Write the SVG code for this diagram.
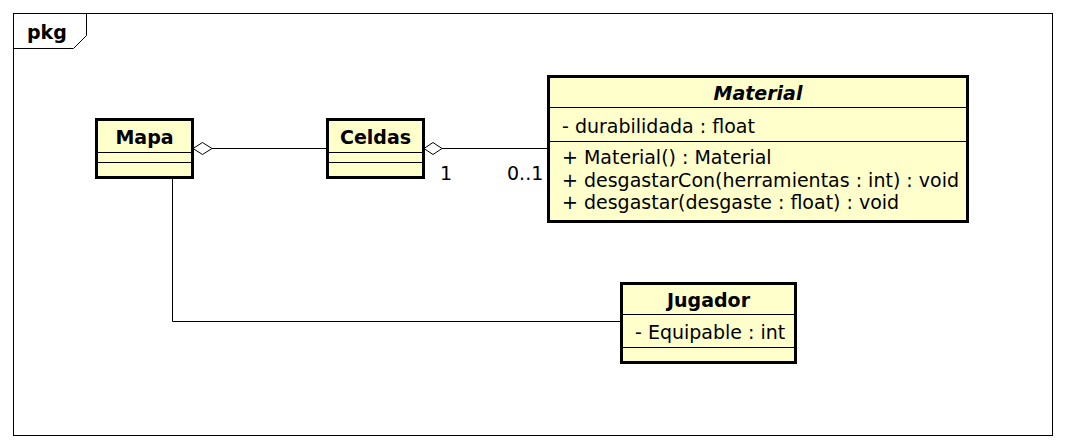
<svg xmlns="http://www.w3.org/2000/svg" width="1065" height="448" viewBox="0 0 1065 448">
<style>
.box{fill:#FFFFCC;stroke:#000;stroke-width:3}
.sep{stroke:#000;stroke-width:1}
.t{font-family:"DejaVu Sans",sans-serif;font-size:19px;fill:#000}
.b{font-weight:bold}
.c{text-anchor:middle}
.ln{fill:none;stroke:#000;stroke-width:1}
.dia{fill:#fff;stroke:#000;stroke-width:1}
</style>
<rect width="1065" height="448" fill="#fff"/>
<g id="frame">
<rect x="13.5" y="13.5" width="1039" height="422" fill="none" stroke="#000" stroke-width="1"/>
<path class="ln" d="M13.5,48.5 H73.5 L86.5,35.5 V13.5"/>
<text class="t b" x="27" y="39">pkg</text>
</g>
<g id="connectors">
<line class="ln" x1="212" y1="148.5" x2="327" y2="148.5"/>
<path class="dia" d="M193,148.5 L202.5,142.5 L212,148.5 L202.5,154.5 Z"/>
<line class="ln" x1="442" y1="148.5" x2="548" y2="148.5"/>
<path class="dia" d="M424,148.5 L433,142.5 L442,148.5 L433,154.5 Z"/>
<text class="t" x="440" y="180">1</text>
<text class="t" x="507" y="180">0..1</text>
<path class="ln" d="M172.5,178 V321.5 H621"/>
</g>
<g id="Mapa">
<rect class="box" x="96.5" y="119.5" width="96" height="58"/>
<line class="sep" x1="96.5" y1="152.5" x2="192.5" y2="152.5"/>
<line class="sep" x1="96.5" y1="162.5" x2="192.5" y2="162.5"/>
<text class="t b c" x="144.5" y="144">Mapa</text>
</g>
<g id="Celdas">
<rect class="box" x="327.5" y="119.5" width="96" height="58"/>
<line class="sep" x1="327.5" y1="152.5" x2="423.5" y2="152.5"/>
<line class="sep" x1="327.5" y1="162.5" x2="423.5" y2="162.5"/>
<text class="t b c" x="375.5" y="144">Celdas</text>
</g>
<g id="Material">
<rect class="box" x="548.5" y="76.5" width="419" height="145"/>
<line class="sep" x1="548.5" y1="107.5" x2="967.5" y2="107.5"/>
<line class="sep" x1="548.5" y1="141.5" x2="967.5" y2="141.5"/>
<text class="t b c" x="758" y="100" font-style="italic">Material</text>
<text class="t" x="562" y="133">- durabilidada : float</text>
<text class="t" x="562" y="164">+ Material() : Material</text>
<text class="t" x="562" y="187">+ desgastarCon(herramientas : int) : void</text>
<text class="t" x="562" y="209">+ desgastar(desgaste : float) : void</text>
</g>
<g id="Jugador">
<rect class="box" x="621.5" y="283.5" width="174" height="79"/>
<line class="sep" x1="621.5" y1="314.5" x2="795.5" y2="314.5"/>
<line class="sep" x1="621.5" y1="347.5" x2="795.5" y2="347.5"/>
<text class="t b c" x="708.5" y="307">Jugador</text>
<text class="t" x="635" y="339">- Equipable : int</text>
</g>
</svg>
